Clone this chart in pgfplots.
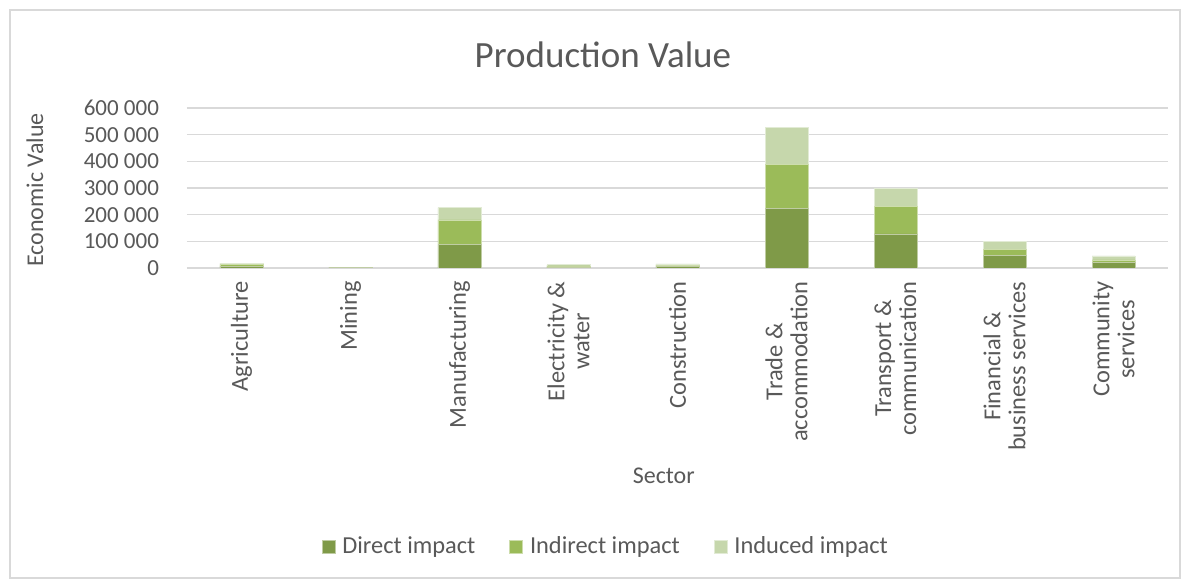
\documentclass[border=0pt]{standalone}
\usepackage{pgfplots}
\pgfplotsset{compat=1.18}
\usepackage{fontspec}
\setmainfont{Carlito}
\definecolor{direct}{HTML}{7F9A48}
\definecolor{indirect}{HTML}{9BBB59}
\definecolor{induced}{HTML}{C6D7AC}
\definecolor{gridc}{HTML}{D9D9D9}
\definecolor{txt}{HTML}{595959}
\begin{document}
\begin{tikzpicture}
\path[fill=white] (0pt,0pt) rectangle (595pt,290.5pt);
\draw[gridc,line width=0.6pt] (5pt,1.5pt) rectangle (590pt,285.5pt);
\begin{axis}[
  at={(93.5pt,156.5pt)}, anchor=south west,
  scale only axis, width=490.5pt, height=80pt,
  ybar stacked, bar width=21.5pt,
  xmin=-0.5, xmax=8.5, ymin=0, ymax=600000,
  ytick={0,100000,200000,300000,400000,500000,600000},
  yticklabels={0,100 000,200 000,300 000,400 000,500 000,600 000},
  scaled y ticks=false,
  xtick={0,...,8},
  xticklabels={Agriculture,Mining,Manufacturing,{Electricity \&\\ water},Construction,{Trade \&\\ accommodation},{Transport \&\\ communication},{Financial \&\\ business services},{Community\\ services}},
  xticklabel style={rotate=90, anchor=east, align=center, font=\fontsize{12.2pt}{12.5pt}\selectfont, text=txt, xshift=-3.2pt},
  yticklabel style={font=\fontsize{11.5pt}{14pt}\selectfont, text=txt, xshift=-10.5pt},
  major tick length=0pt,
  axis line style={draw=none},
  ymajorgrids, grid style={gridc, line width=0.6pt},
  every axis title shift=0pt,
  title={Production Value},
  title style={at={(axis description cs:0.424,1.331)}, anchor=center, font=\fontsize{18.5pt}{22pt}\selectfont, text=txt},
  ylabel={Economic Value},
  ylabel style={at={(axis description cs:-0.155,0.4875)}, anchor=center, rotate=0, font=\fontsize{12pt}{14pt}\selectfont, text=txt},
  xlabel={Sector},
  xlabel style={at={(axis description cs:0.486,-1.3)}, anchor=center, font=\fontsize{12pt}{14pt}\selectfont, text=txt},
  legend columns=3,
  legend style={at={(axis description cs:0.428,-1.744)}, anchor=center, draw=none, font=\fontsize{12.2pt}{14pt}\selectfont, text=txt, /tikz/every even column/.append style={column sep=15pt}, /tikz/every odd column/.append style={column sep=1.5pt}},
  legend image code/.code={\fill[#1] (0pt,-3.2pt) rectangle (6.5pt,3.3pt);},
]
\addplot[fill=direct, draw=white!50!direct, line width=0.3pt] coordinates {(0,7000) (1,1000) (2,87500) (3,4000) (4,6000) (5,222000) (6,128000) (7,48600) (8,20000)};
\addplot[fill=indirect, draw=white!50!indirect, line width=0.3pt] coordinates {(0,6000) (1,500) (2,92500) (3,4000) (4,5000) (5,167000) (6,104000) (7,20000) (8,10000)};
\addplot[fill=induced, draw=white!50!induced, line width=0.3pt] coordinates {(0,4000) (1,500) (2,46000) (3,4000) (4,4000) (5,139700) (6,67000) (7,31400) (8,15000)};
\legend{Direct impact, Indirect impact, Induced impact}
\end{axis}
\end{tikzpicture}
\end{document}
